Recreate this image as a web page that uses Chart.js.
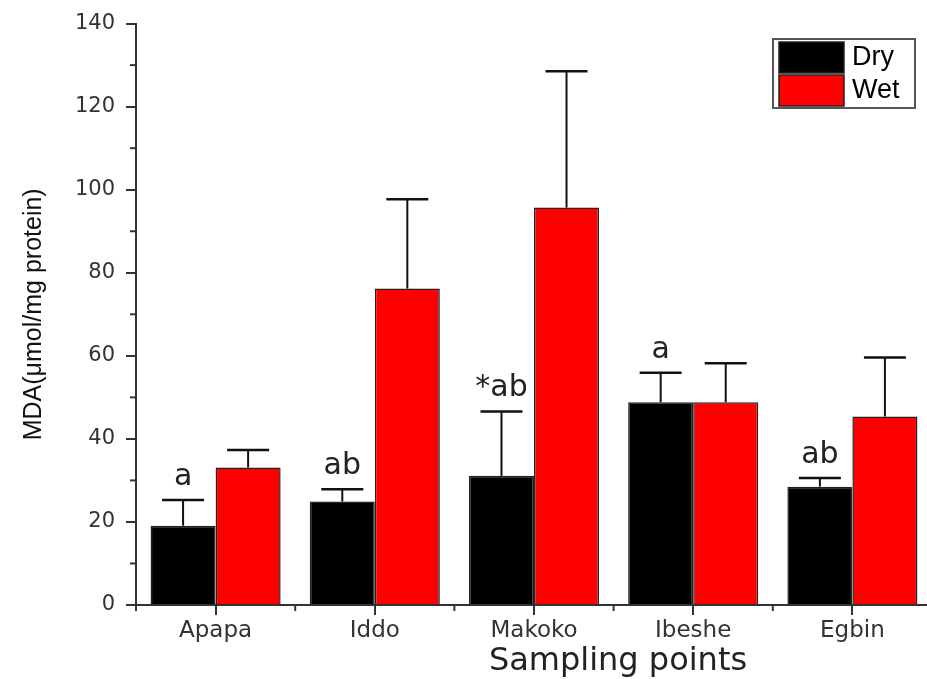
<!DOCTYPE html>
<html>
<head>
<meta charset="utf-8">
<script src="https://cdn.jsdelivr.net/npm/chart.js@4.4.0/dist/chart.umd.min.js"></script>
<style>
  html, body { margin: 0; padding: 0; background: #fff; overflow: hidden; }
  #wrap { width: 932px; height: 679px; }
</style>
</head>
<body>
<div id="wrap"><canvas id="mdaChart" width="932" height="679"></canvas></div>
<script>
// MDA levels per sampling point, dry vs wet season (mean + SD)
const sites = ['Apapa', 'Iddo', 'Makoko', 'Ibeshe', 'Egbin'];
const dryMean = [19.1, 24.9, 31.1, 48.8, 28.5];
const dryErr  = [6.2, 3.0, 15.5, 7.1, 2.1];
const wetMean = [33.1, 76.2, 95.7, 48.8, 45.4];
const wetErr  = [4.2, 21.5, 32.8, 9.4, 14.2];
const drySig  = ['a', 'ab', '*ab', 'a', 'ab'];
const yTicks  = [0, 20, 40, 60, 80, 100, 120, 140];

const axisColor = '#333';
const tickFont = { family: 'DejaVu Sans', size: 21 };

// one-sided error bars with a cap, plus the letters above the dry bars
const errorBars = {
    id: 'errorBars',
    afterDatasetsDraw(chart) {
        const ctx = chart.ctx;
        const y = chart.scales.y;
        const errs = [dryErr, wetErr];
        ctx.save();
        ctx.strokeStyle = '#111';
        chart.data.datasets.forEach((ds, di) => {
            const meta = chart.getDatasetMeta(di);
            meta.data.forEach((bar, i) => {
                const top = y.getPixelForValue(ds.data[i] + errs[di][i]);
                ctx.lineWidth = 2;
                ctx.beginPath();
                ctx.moveTo(bar.x, bar.y);
                ctx.lineTo(bar.x, top);
                ctx.stroke();
                ctx.lineWidth = 2.5;
                ctx.beginPath();
                ctx.moveTo(bar.x - 21, top);
                ctx.lineTo(bar.x + 21, top);
                ctx.stroke();
                if (di === 0) {
                    ctx.fillStyle = '#222';
                    ctx.font = '30px "DejaVu Sans"';
                    ctx.textAlign = 'center';
                    ctx.textBaseline = 'alphabetic';
                    ctx.fillText(drySig[i], bar.x, top - 15);
                }
            });
        });
        ctx.restore();
    }
};

// minor ticks, x title and the boxed legend
const decorations = {
    id: 'decorations',
    afterDraw(chart) {
        const ctx = chart.ctx;
        const { left, bottom } = chart.chartArea;
        const x = chart.scales.x, y = chart.scales.y;
        ctx.save();
        ctx.strokeStyle = axisColor;
        ctx.lineWidth = 2;
        for (let v = 10; v < 140; v += 20) {
            const py = y.getPixelForValue(v);
            ctx.beginPath();
            ctx.moveTo(left - 6, py);
            ctx.lineTo(left, py);
            ctx.stroke();
        }
        const half = (x.getPixelForValue(1) - x.getPixelForValue(0)) / 2;
        for (let i = 0; i < sites.length; i++) {
            const px = x.getPixelForValue(i) - half;
            ctx.beginPath();
            ctx.moveTo(px, bottom);
            ctx.lineTo(px, bottom + 6);
            ctx.stroke();
        }

        ctx.fillStyle = '#222';
        ctx.font = '32px "DejaVu Sans"';
        ctx.textAlign = 'center';
        ctx.textBaseline = 'middle';
        ctx.fillText('Sampling points', 618, 662);

        // legend
        const lx = 773, ly = 39, lw = 142, lh = 69;
        ctx.fillStyle = '#fff';
        ctx.fillRect(lx, ly, lw, lh);
        ctx.strokeStyle = '#555';
        ctx.lineWidth = 2;
        ctx.strokeRect(lx, ly, lw, lh);
        ctx.font = '27px "Liberation Sans"';
        ctx.textAlign = 'left';
        chart.data.datasets.forEach((ds, i) => {
            const sy = ly + 3 + i * 33;
            ctx.fillStyle = ds.backgroundColor;
            ctx.fillRect(lx + 6, sy, 65, 31);
            ctx.strokeStyle = '#222';
            ctx.lineWidth = 1.5;
            ctx.strokeRect(lx + 6, sy, 65, 31);
            ctx.fillStyle = '#000';
            ctx.fillText(ds.label, lx + 79, sy + 16);
        });
        ctx.restore();
    }
};

new Chart(document.getElementById('mdaChart'), {
    type: 'bar',
    data: {
        labels: sites,
        datasets: [
            { label: 'Dry', data: dryMean, backgroundColor: '#000000', borderColor: '#222', borderWidth: 1.5 },
            { label: 'Wet', data: wetMean, backgroundColor: '#ff0000', borderColor: '#222', borderWidth: 1.5 }
        ]
    },
    options: {
        responsive: false,
        animation: false,
        layout: { padding: { top: 20, right: 0, left: 0, bottom: 0 } },
        datasets: { bar: { categoryPercentage: 0.817, barPercentage: 1.0 } },
        plugins: { legend: { display: false }, tooltip: { enabled: false } },
        scales: {
            x: {
                grid: { drawOnChartArea: false, offset: false, tickLength: 10, color: axisColor, lineWidth: 2 },
                border: { color: axisColor, width: 2 },
                ticks: { font: { family: 'DejaVu Sans', size: 23 }, color: '#333', padding: 2, maxRotation: 0 },
                afterFit(scale) { scale.height = 74; }
            },
            y: {
                min: 0,
                max: 140,
                afterBuildTicks(scale) { scale.ticks = yTicks.map(v => ({ value: v })); },
                grid: { drawOnChartArea: false, tickLength: 10, color: axisColor, lineWidth: 2 },
                border: { color: axisColor, width: 2 },
                ticks: { font: tickFont, color: '#333', padding: 11 },
                title: {
                    display: true,
                    text: 'MDA(μmol/mg protein)',
                    font: { family: 'Liberation Sans', size: 25 },
                    color: '#111',
                    padding: { top: 19, bottom: 0 }
                },
                afterFit(scale) { scale.width = 136; }
            }
        }
    },
    plugins: [errorBars, decorations]
});
</script>
</body>
</html>
